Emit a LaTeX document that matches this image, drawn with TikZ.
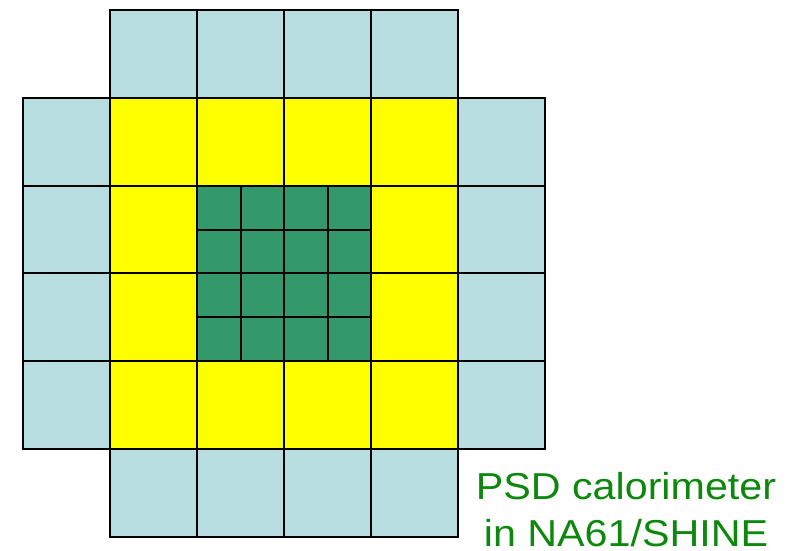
\documentclass[tikz,border=0pt]{standalone}
\usepackage{fontspec}
\setmainfont{Liberation Sans}
\newfontfamily\rotulo[FakeStretch=1.1]{Liberation Sans}
\definecolor{celeste}{HTML}{B8DDE1}
\definecolor{amarillo}{HTML}{FFFF00}
\definecolor{verde}{HTML}{33996A}
\definecolor{texto}{HTML}{0C880C}

\begin{document}
\begin{tikzpicture}[x=1pt,y=-1pt,
    celda/.style={draw=black, line width=2pt},
    etiqueta/.style={text=texto, align=center, inner sep=0pt,
        font=\rotulo\fontsize{37.5}{46.7}\selectfont}]

    \useasboundingbox (0,0) rectangle (786,550);

    % Modulos exteriores
    \foreach \i in {1,...,4} {
        \draw[celda, fill=celeste] (23+87*\i,10) rectangle ++(87,87.8);
        \draw[celda, fill=celeste] (23+87*\i,449) rectangle ++(87,87.8);
    }
    \foreach \j in {1,...,4} {
        \draw[celda, fill=celeste] (23,10+87.8*\j) rectangle ++(87,87.8);
        \draw[celda, fill=celeste] (458,10+87.8*\j) rectangle ++(87,87.8);
    }

    % Modulos intermedios
    \foreach \i in {1,...,4}
        \foreach \j in {1,...,4}
            \draw[celda, fill=amarillo] (23+87*\i,10+87.8*\j) rectangle ++(87,87.8);

    % Modulos centrales
    \foreach \i in {0,...,3}
        \foreach \j in {0,...,3}
            \draw[celda, fill=verde] (197+43.5*\i,185.6+43.9*\j) rectangle ++(43.5,43.9);

    % Titulo
    \node[etiqueta, anchor=base] (titulo) at (626,546) {PSD calorimeter\\in NA61/SHINE};

\end{tikzpicture}
\end{document}
